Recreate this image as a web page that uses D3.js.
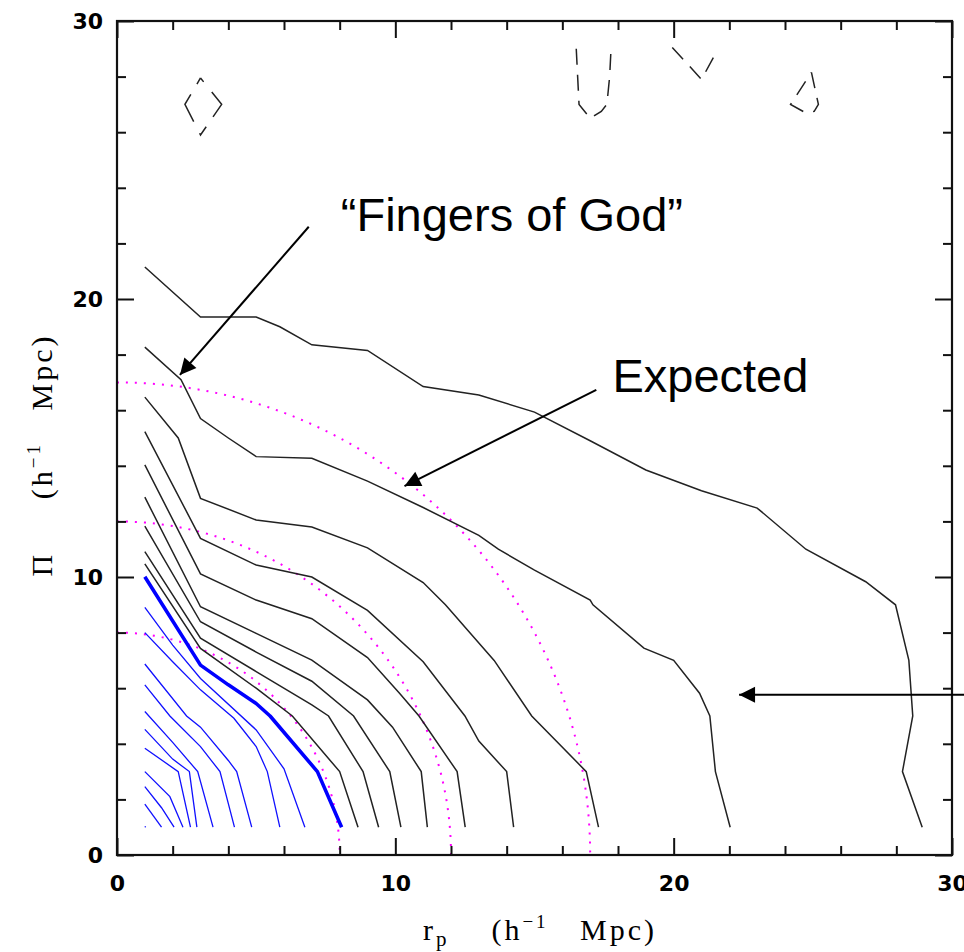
<!DOCTYPE html>
<html>
<head>
<meta charset="utf-8">
<script src="https://cdn.jsdelivr.net/npm/d3@7"></script>
<style>
	body { margin: 0; background: #fff; }
	svg { display: block; }
</style>
</head>
<body>
<div id="chart"></div>
<script>
// Redshift-space correlation function xi(rp, pi), contours.
// Each contour is a list of [rp, pi] points in h^-1 Mpc.
var blackContours = [
	[[1,10.47],[3,7.43],[5,6.0],[6.3,5],[8,3],[8.66,1]],
	[[1,10.91],[3,7.8],[5,6.6],[7,5.4],[7.6,5],[8.84,3],[9.4,1]],
	[[1,11.83],[3,8.39],[5,7.3],[7,6.25],[8.5,5],[9.8,3],[10.2,1]],
	[[1,12.87],[3,8.93],[5,7.97],[7,7.01],[9,5.58],[9.9,4.6],[10.93,3],[11.15,1]],
	[[1,14.03],[3,10.11],[5,9.17],[7,8.5],[9,7.1],[10.15,5.82],[10.85,5],[12.22,3],[12.51,1]],
	[[1,15.23],[3,11.39],[5,10.43],[7,10.0],[9,8.8],[11,6.95],[12.5,5],[13,4.1],[14,3],[14.25,1]],
	[[1,16.47],[2.2,15],[3,12.83],[5,12.05],[7,11.8],[9,11.05],[11,9.8],[11.8,9],[13.55,7],[14.9,5],[16.86,3],[17.3,1]],
	[[1,18.27],[2.3,17.1],[3,15.7],[4,15],[5,14.33],[7,14.27],[9,13.45],[11,12.5],[13,11.5],[13.7,11],[15,10.25],[17,9.17],[17.1,9],[18.93,7.44],[20,7],[20.93,5.82],[21.3,5],[21.5,3],[22.03,1]],
	[[1,21.15],[3,19.35],[5,19.35],[5.85,19],[7,18.35],[9,18.15],[11,16.85],[13,16.55],[15,15.93],[17,14.9],[19,13.85],[21,13.1],[23,12.48],[24.75,11],[26.9,9.83],[27.97,9],[28.45,7],[28.59,5],[28.22,3],[28.93,1]]
];

var blueThick = [[1,10.01],[3,6.83],[4,6.12],[5,5.45],[5.5,5],[7.2,3],[8.07,1]];

var blueContours = [
	[[1,8.91],[2,7.55],[3,6.35],[5,4.5],[6,3.1],[6.75,1]],
	[[1,8.0],[2,6.95],[3,5.94],[4.2,4.92],[5,3.9],[5.4,3],[5.85,1]],
	[[1,6.87],[2.5,5],[3,4.6],[4,3.4],[4.3,3],[4.84,1]],
	[[1,6.12],[1.9,5],[3,3.9],[3.7,3],[4.22,1]],
	[[1,5.16],[2,4.05],[2.9,3],[3.45,1]],
	[[1,4.52],[2,3.45],[2.6,3],[2.87,1]],
	[[1,3.84],[2.2,3],[2.64,1]],
	[[1,3.0],[1.9,2.1],[2.37,1]],
	[[1,2.46],[1.6,1.7],[2.05,1]],
	[[1,1.83],[1.6,1]],
	[[1,1.03],[1.03,1]]
];

// dashed low level islands near the top
var dashedContours = [
	[[3.0,27.95],[3.76,27.0],[3.0,25.9],[2.44,27.0],[3.0,27.95]],
	[[16.5,29],[16.55,28],[16.6,27],[17,26.5],[17.4,26.75],[17.6,27],[17.7,28],[17.75,29]],
	[[19.95,29.05],[21,27.9],[21.6,29]],
	[[24.95,28.15],[25.2,27],[25.05,26.75],[24.7,26.72],[24.2,27],[24.95,28.15]]
];

// expected (no peculiar velocity) contours: circles
var expectedRadii = [8, 12, 17];

var tickLabels = [0, 10, 20, 30];
var minorTicks = [2, 4, 6, 8, 12, 14, 16, 18, 22, 24, 26, 28];

var annotations = [
	{ text: "\u201cFingers of God\u201d", at: [8.04, 22.45], from: [6.89, 22.6], to: [2.26, 17.27] },
	{ text: "Expected", at: [17.8, 16.65], from: [17.22, 16.73], to: [10.33, 13.27] },
	{ text: "", at: null, from: [30.5, 5.76], to: [22.35, 5.76] }
];

var box = { width: 964, height: 952, left: 117, top: 21, right: 12, bottom: 97 };
box.cw = box.width - box.left - box.right;
box.ch = box.height - box.top - box.bottom;

var x = d3.scaleLinear().domain([0, 30]).range([0, box.cw]);
var y = d3.scaleLinear().domain([0, 30]).range([box.ch, 0]);

var svg = d3.select("#chart").append("svg")
	.attr("width", box.width)
	.attr("height", box.height);

svg.append("defs").append("marker")
	.attr("id", "head")
	.attr("markerUnits", "userSpaceOnUse")
	.attr("markerWidth", 20).attr("markerHeight", 20)
	.attr("viewBox", "-18 -10 20 20")
	.attr("refX", 0).attr("refY", 0)
	.attr("orient", "auto")
	.append("path")
	.attr("d", "M0,0 L-16,-8 L-16,8 Z")
	.attr("fill", "#000");

var g = svg.append("g")
	.attr("transform", `translate(${box.left}, ${box.top})`);

var line = d3.line().x(d => x(d[0])).y(d => y(d[1]));

// expected circles
g.append("g").selectAll("path")
	.data(expectedRadii)
	.join("path")
	.attr("d", r => `M${x(0)},${y(r)} A${x(r) - x(0)},${y(0) - y(r)} 0 0 1 ${x(r)},${y(0)}`)
	.attr("fill", "none")
	.attr("stroke", "#ff00ff")
	.attr("stroke-width", 2)
	.attr("stroke-dasharray", "2,7");

g.append("g").selectAll("path")
	.data(blueContours)
	.join("path")
	.attr("d", line)
	.attr("fill", "none")
	.attr("stroke", "#1010ff")
	.attr("stroke-width", 1.3);

g.append("g").selectAll("path")
	.data(blackContours)
	.join("path")
	.attr("d", line)
	.attr("fill", "none")
	.attr("stroke", "#222")
	.attr("stroke-width", 1.5);

g.append("path")
	.attr("d", line(blueThick))
	.attr("fill", "none")
	.attr("stroke", "#0000ff")
	.attr("stroke-width", 3.6)
	.attr("stroke-linejoin", "round");

g.append("g").selectAll("path")
	.data(dashedContours)
	.join("path")
	.attr("d", line)
	.attr("fill", "none")
	.attr("stroke", "#222")
	.attr("stroke-width", 1.5)
	.attr("stroke-dasharray", (d, i) => i == 0 ? "31,12,12,13" : "16,10")
	.attr("stroke-dashoffset", (d, i) => i == 0 ? -18 : 0);

// axes: ticks inward on all four sides
function drawTicks(axisFn, transform, labels) {
	var major = g.append("g").attr("transform", transform)
		.call(axisFn().tickValues(tickLabels)
			.tickSize(-17).tickPadding(labels === "x" ? 20 : 14)
			.tickFormat(labels ? d3.format("d") : ""));
	var minor = g.append("g").attr("transform", transform)
		.call(axisFn().tickValues(minorTicks).tickSize(-9).tickFormat(""));
	[major, minor].forEach(a => {
		a.select(".domain").remove();
		a.selectAll("line").attr("stroke", "#111").attr("stroke-width", 2);
		a.selectAll("text")
			.attr("fill", "#000")
			.style("font-family", "'DejaVu Sans', sans-serif")
			.style("font-weight", "bold")
			.style("font-size", "22px");
	});
}
drawTicks(() => d3.axisBottom(x), `translate(0, ${box.ch})`, "x");
drawTicks(() => d3.axisLeft(y), "translate(0, 0)", "y");
drawTicks(() => d3.axisTop(x), "translate(0, 0)", null);
drawTicks(() => d3.axisRight(y), `translate(${box.cw}, 0)`, null);

g.append("rect")
	.attr("width", box.cw)
	.attr("height", box.ch)
	.attr("fill", "none")
	.attr("stroke", "#111")
	.attr("stroke-width", 2.2);

// annotations
annotations.forEach(a => {
	g.append("line")
		.attr("x1", x(a.from[0])).attr("y1", y(a.from[1]))
		.attr("x2", x(a.to[0])).attr("y2", y(a.to[1]))
		.attr("stroke", "#000")
		.attr("stroke-width", 2)
		.attr("marker-end", "url(#head)");
	if (a.at) {
		g.append("text")
			.attr("x", x(a.at[0])).attr("y", y(a.at[1]))
			.style("font-family", "'Liberation Sans', Arial, sans-serif")
			.style("font-size", "47px")
			.attr("fill", "#000")
			.text(a.text);
	}
});

// axis titles
function axisTitle(t, symbol, symbolSub, gap) {
	t.style("font-family", "'Liberation Serif', serif")
		.style("font-size", "30px")
		.style("letter-spacing", "3px")
		.attr("fill", "#000")
		.attr("text-anchor", "middle");
	t.append("tspan").text(symbol);
	if (symbolSub) {
		t.append("tspan").attr("dy", 6).style("font-size", "21px").text(symbolSub);
		t.append("tspan").attr("dy", -6).text(gap + "(h");
	} else {
		t.append("tspan").text(gap + "(h");
	}
	t.append("tspan").attr("dy", -12).style("font-size", "19px").text("\u22121");
	t.append("tspan").attr("dy", 12).text("\u00a0\u00a0\u00a0Mpc)");
}

axisTitle(svg.append("text")
	.attr("x", 540)
	.attr("y", 940), "r", "p", "\u00a0\u00a0\u00a0\u00a0");

axisTitle(svg.append("text")
	.attr("transform", `translate(52, 455) rotate(-90)`), "\u03a0", null, "\u00a0\u00a0\u00a0\u00a0\u00a0");
</script>
</body>
</html>
